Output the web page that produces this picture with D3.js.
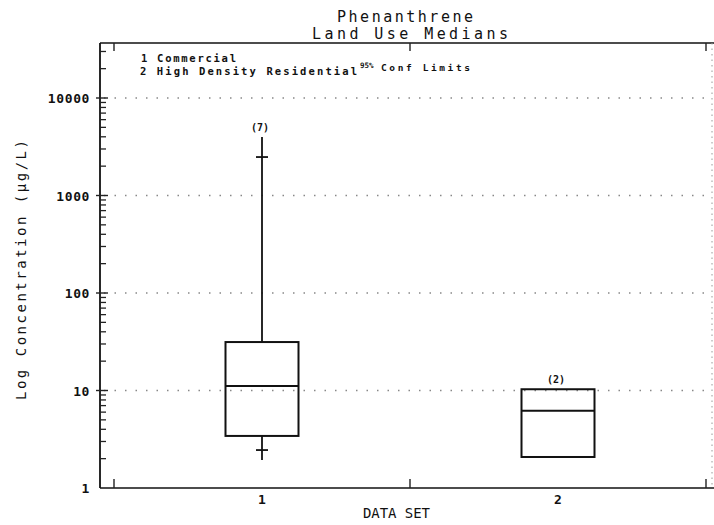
<!DOCTYPE html>
<html>
<head>
<meta charset="utf-8">
<script src="https://cdn.jsdelivr.net/npm/d3@7"></script>
<style>
  html, body { margin: 0; padding: 0; background: #fff; }
  svg { display: block; }
  text { font-family: "DejaVu Sans Mono", "Liberation Mono", monospace; fill: #111; }
</style>
</head>
<body>
<svg id="chart" width="714" height="525"></svg>
<script>
// ---- data ----
const dataSets = [1, 2];
const counts = ["(7)", "(2)"];
const boxTop = [31.4, 10.3];
const boxMedian = [11.1, 6.2];
const boxBottom = [3.42, 2.08];
const whiskerTop = [3980, null];
const whiskerBottom = [1.94, null];
const confUpper = [2480, null];
const confLower = [2.45, null];
const yTickValues = [1, 10, 100, 1000, 10000];
const yTickLabels = ["1", "10", "100", "1000", "10000"];
const xTickValues = [1, 2];
const xTickLabels = ["1", "2"];
const xMinorTicks = [0.5, 1.5, 2.5];
const legendItems = ["1 Commercial", "2 High Density Residential"];

// ---- layout ----
const svg = d3.select("#chart");
const pLeft = 100, pRight = 712, pTop = 43, pBottom = 488;

const x = d3.scaleLinear().domain([0.5, 2.5]).range([114, 706]);
const y = d3.scaleLog().domain([1, 10000]).range([pBottom, 98]);

// gridlines (dotted)
svg.append("g").selectAll("line")
  .data(yTickValues.filter(v => v > 1))
  .join("line")
  .attr("x1", pLeft + 4).attr("x2", pRight)
  .attr("y1", d => y(d)).attr("y2", d => y(d))
  .attr("stroke", "#888").attr("stroke-width", 1.3)
  .attr("stroke-dasharray", "1.5,9");

// frame
svg.append("line").attr("x1", pLeft).attr("x2", 714).attr("y1", pTop).attr("y2", pTop)
  .attr("stroke", "#111").attr("stroke-width", 1.6);
svg.append("line").attr("x1", pLeft).attr("x2", 714).attr("y1", pBottom).attr("y2", pBottom)
  .attr("stroke", "#111").attr("stroke-width", 1.6);
svg.append("line").attr("x1", pLeft).attr("x2", pLeft).attr("y1", pTop).attr("y2", pBottom)
  .attr("stroke", "#111").attr("stroke-width", 1.8);
svg.append("line").attr("x1", pRight).attr("x2", pRight).attr("y1", pTop).attr("y2", pBottom)
  .attr("stroke", "#999").attr("stroke-width", 1).attr("stroke-dasharray", "1.5,4");

// y axis ticks: major (outward + inward) and minor (inward)
const minor = [];
for (let e = 0; e < 4; e++) for (let m = 2; m <= 9; m++) minor.push(m * Math.pow(10, e));
for (let m = 2; m <= 3; m++) minor.push(m * 10000);
svg.append("g").selectAll("line").data(minor).join("line")
  .attr("x1", pLeft).attr("x2", pLeft + 6)
  .attr("y1", d => y(d)).attr("y2", d => y(d))
  .attr("stroke", "#222").attr("stroke-width", 1.3);
svg.append("g").selectAll("line").data(yTickValues.filter(v => v > 1)).join("line")
  .attr("x1", pLeft - 4).attr("x2", pLeft + 8)
  .attr("y1", d => y(d)).attr("y2", d => y(d))
  .attr("stroke", "#222").attr("stroke-width", 1.4);

// y tick labels
svg.append("g").selectAll("text").data(yTickValues).join("text")
  .attr("x", 90).attr("y", d => y(d) + 5)
  .attr("text-anchor", "end")
  .attr("font-size", 13).attr("font-weight", "bold")
  .attr("letter-spacing", 0.6)
  .text((d, i) => yTickLabels[i]);

// x minor ticks (inward, bottom and top)
svg.append("g").selectAll("line").data(xMinorTicks).join("line")
  .attr("x1", d => x(d)).attr("x2", d => x(d))
  .attr("y1", pBottom).attr("y2", pBottom - 9)
  .attr("stroke", "#222").attr("stroke-width", 1.4);
svg.append("g").selectAll("line").data(xMinorTicks).join("line")
  .attr("x1", d => x(d)).attr("x2", d => x(d))
  .attr("y1", pTop).attr("y2", pTop + 8)
  .attr("stroke", "#222").attr("stroke-width", 1.4);

// x tick labels
svg.append("g").selectAll("text").data(xTickValues).join("text")
  .attr("x", d => x(d)).attr("y", 504)
  .attr("text-anchor", "middle")
  .attr("font-size", 13).attr("font-weight", "bold")
  .text((d, i) => xTickLabels[i]);

// boxes
const bw = 73;
const g = svg.append("g");
dataSets.forEach((d, i) => {
  const cx = x(d);
  if (whiskerTop[i] != null) {
    g.append("line").attr("x1", cx).attr("x2", cx)
      .attr("y1", y(whiskerTop[i])).attr("y2", y(boxTop[i]))
      .attr("stroke", "#111").attr("stroke-width", 1.8);
    g.append("line").attr("x1", cx).attr("x2", cx)
      .attr("y1", y(boxBottom[i])).attr("y2", y(whiskerBottom[i]))
      .attr("stroke", "#111").attr("stroke-width", 1.8);
    [confUpper[i], confLower[i]].forEach(v => {
      g.append("line").attr("x1", cx - 6).attr("x2", cx + 6)
        .attr("y1", y(v)).attr("y2", y(v))
        .attr("stroke", "#111").attr("stroke-width", 1.8);
    });
  }
  g.append("rect")
    .attr("x", cx - bw / 2).attr("width", bw)
    .attr("y", y(boxTop[i])).attr("height", y(boxBottom[i]) - y(boxTop[i]))
    .attr("fill", "none").attr("stroke", "#111").attr("stroke-width", 2);
  g.append("line").attr("x1", cx - bw / 2).attr("x2", cx + bw / 2)
    .attr("y1", y(boxMedian[i])).attr("y2", y(boxMedian[i]))
    .attr("stroke", "#111").attr("stroke-width", 2);
  const topV = whiskerTop[i] != null ? whiskerTop[i] : boxTop[i];
  g.append("text").attr("x", cx - 2).attr("y", y(topV) - 6)
    .attr("text-anchor", "middle").attr("font-size", 10).attr("font-weight", "bold")
    .text(counts[i]);
});

// titles
svg.append("text").attr("x", 337).attr("y", 22).attr("font-size", 15)
  .attr("textLength", 136).attr("lengthAdjust", "spacing").text("Phenanthrene");
svg.append("text").attr("x", 312).attr("y", 39).attr("font-size", 15)
  .attr("textLength", 196).attr("lengthAdjust", "spacing").text("Land Use Medians");

// legend
svg.append("text").attr("x", 141).attr("y", 61.5).attr("font-size", 10.5).attr("font-weight", "bold")
  .attr("textLength", 95).attr("lengthAdjust", "spacing").text(legendItems[0]);
svg.append("text").attr("x", 140).attr("y", 74.5).attr("font-size", 10.5).attr("font-weight", "bold")
  .attr("textLength", 217).attr("lengthAdjust", "spacing").text(legendItems[1]);
svg.append("text").attr("x", 360).attr("y", 68).attr("font-size", 7.5).attr("font-weight", "bold")
  .text("95%");
svg.append("text").attr("x", 381).attr("y", 71).attr("font-size", 9.5).attr("font-weight", "bold")
  .attr("textLength", 89).attr("lengthAdjust", "spacing").text("Conf Limits");

// axis titles
svg.append("text").attr("transform", "translate(26,400) rotate(-90)")
  .attr("font-size", 14).attr("textLength", 260).attr("lengthAdjust", "spacing")
  .text("Log Concentration (µg/L)");
svg.append("text").attr("x", 363).attr("y", 518).attr("font-size", 14)
  .attr("textLength", 67).attr("lengthAdjust", "spacing").text("DATA SET");
</script>
</body>
</html>
